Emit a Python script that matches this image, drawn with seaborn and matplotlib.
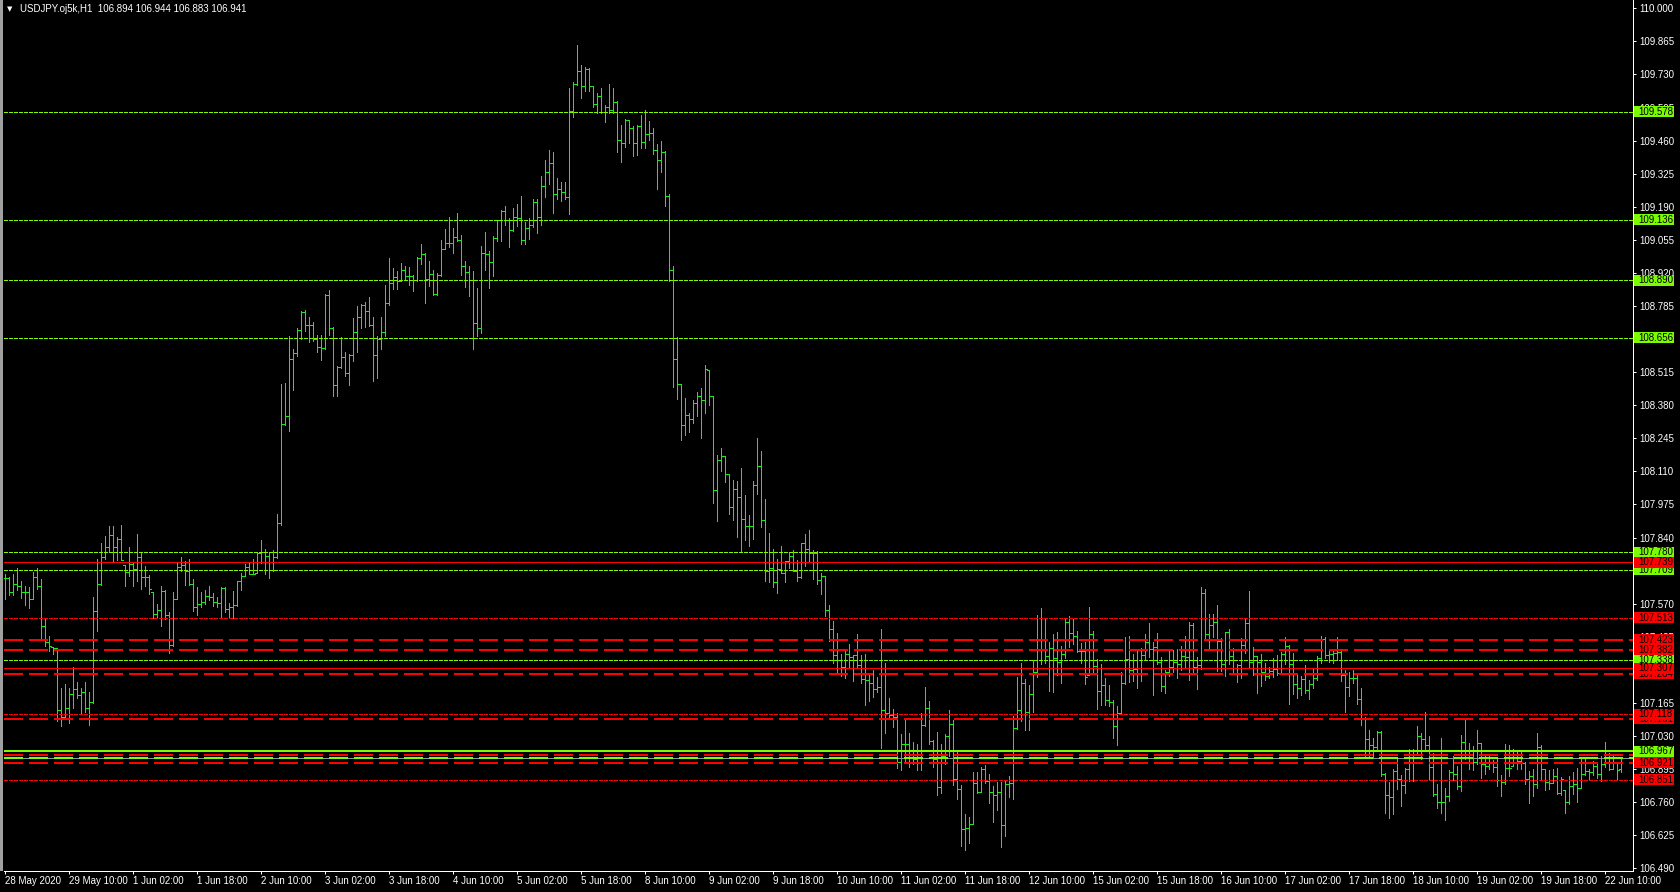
import matplotlib
matplotlib.use("Agg")
import matplotlib.pyplot as plt
import matplotlib.transforms as mtransforms
from matplotlib.patches import Rectangle
import seaborn as sns
import numpy as np

# USDJPY H1, barras desde 28 May 18:00 hasta 22 Jun 14:00
opens = [
    107.673, 107.673, 107.616, 107.649, 107.641, 107.616, 107.616, 107.588, 107.679, 107.641,
    107.479, 107.413, 107.397, 107.388, 107.135, 107.106, 107.144, 107.200, 107.223, 107.197,
    107.208, 107.143, 107.169, 107.540, 107.649, 107.762, 107.801, 107.849, 107.800, 107.835,
    107.748, 107.700, 107.732, 107.710, 107.762, 107.680, 107.680, 107.628, 107.528, 107.544,
    107.623, 107.522, 107.403, 107.590, 107.718, 107.726, 107.703, 107.650, 107.555, 107.567,
    107.575, 107.601, 107.598, 107.577, 107.573, 107.635, 107.547, 107.555, 107.563, 107.664,
    107.683, 107.720, 107.692, 107.692, 107.778, 107.779, 107.765, 107.707, 107.762, 107.899,
    108.302, 108.335, 108.567, 108.592, 108.686, 108.761, 108.706, 108.706, 108.650, 108.616,
    108.612, 108.830, 108.695, 108.461, 108.535, 108.575, 108.510, 108.585, 108.678, 108.740,
    108.789, 108.763, 108.706, 108.584, 108.650, 108.678, 108.796, 108.878, 108.902, 108.886,
    108.932, 108.906, 108.906, 108.890, 108.980, 108.997, 108.897, 108.917, 108.833, 108.910,
    109.016, 109.041, 109.041, 109.065, 109.056, 108.950, 108.924, 108.891, 108.717, 108.694,
    109.000, 108.996, 108.963, 109.061, 109.135, 109.171, 109.135, 109.094, 109.147, 109.143,
    109.053, 109.105, 109.114, 109.208, 109.147, 109.276, 109.333, 109.370, 109.241, 109.261,
    109.250, 109.228, 109.579, 109.690, 109.743, 109.681, 109.752, 109.681, 109.608, 109.641,
    109.575, 109.596, 109.583, 109.617, 109.462, 109.450, 109.543, 109.513, 109.449, 109.520,
    109.454, 109.488, 109.490, 109.420, 109.379, 109.412, 109.234, 108.930, 108.567, 108.466,
    108.300, 108.339, 108.325, 108.388, 108.416, 108.400, 108.526, 108.416, 108.033, 108.156,
    108.171, 108.098, 107.963, 108.039, 108.005, 107.914, 107.886, 107.888, 108.056, 108.133,
    107.910, 107.705, 107.714, 107.657, 107.713, 107.697, 107.743, 107.763, 107.705, 107.680,
    107.816, 107.794, 107.778, 107.778, 107.665, 107.682, 107.546, 107.465, 107.359, 107.341,
    107.310, 107.365, 107.354, 107.359, 107.321, 107.264, 107.257, 107.246, 107.220, 107.230,
    107.136, 107.122, 107.114, 107.106, 106.925, 106.996, 106.996, 106.925, 106.937, 106.974,
    107.076, 107.146, 107.011, 106.937, 106.823, 106.950, 107.031, 107.080, 106.854, 106.815,
    106.652, 106.653, 106.669, 106.839, 106.800, 106.894, 106.846, 106.800, 106.788, 106.800,
    106.665, 106.833, 106.837, 107.064, 107.136, 107.245, 107.127, 107.200, 107.291, 107.426,
    107.424, 107.355, 107.388, 107.347, 107.330, 107.365, 107.495, 107.449, 107.437, 107.375,
    107.376, 107.269, 107.445, 107.317, 107.213, 107.237, 107.176, 107.167, 107.069, 107.122,
    107.245, 107.345, 107.301, 107.305, 107.306, 107.359, 107.413, 107.383, 107.394, 107.333,
    107.232, 107.291, 107.313, 107.333, 107.322, 107.356, 107.352, 107.482, 107.313, 107.318,
    107.614, 107.445, 107.482, 107.494, 107.416, 107.322, 107.453, 107.356, 107.306, 107.318,
    107.400, 107.490, 107.330, 107.355, 107.332, 107.292, 107.276, 107.296, 107.303, 107.288,
    107.363, 107.396, 107.325, 107.241, 107.224, 107.264, 107.219, 107.241, 107.265, 107.347,
    107.424, 107.359, 107.366, 107.367, 107.374, 107.278, 107.229, 107.265, 107.265, 107.182,
    107.102, 107.016, 106.992, 106.984, 107.048, 106.876, 106.790, 106.782, 106.886, 106.856,
    106.829, 106.894, 106.921, 106.970, 107.029, 107.019, 106.993, 106.902, 106.792, 106.759,
    106.759, 106.786, 106.882, 106.873, 106.824, 107.004, 106.952, 106.953, 106.922, 107.000,
    106.917, 106.909, 106.925, 106.903, 106.850, 106.841, 106.898, 106.898, 106.922, 106.926,
    106.921, 106.854, 106.867, 106.834, 106.984, 106.894, 106.841, 106.839, 106.865, 106.796,
    106.856, 106.762, 106.824, 106.833, 106.816, 106.876, 106.886, 106.883, 106.906, 106.875,
    106.917, 106.958, 106.897, 106.918, 106.894,
]
highs = [
    107.691, 107.677, 107.691, 107.714, 107.662, 107.642, 107.637, 107.699, 107.715, 107.671,
    107.510, 107.438, 107.394, 107.389, 107.226, 107.242, 107.226, 107.311, 107.250, 107.226,
    107.250, 107.209, 107.596, 107.751, 107.816, 107.846, 107.886, 107.886, 107.841, 107.891,
    107.728, 107.801, 107.739, 107.854, 107.777, 107.724, 107.687, 107.616, 107.567, 107.641,
    107.624, 107.534, 107.617, 107.740, 107.760, 107.744, 107.751, 107.669, 107.637, 107.619,
    107.626, 107.642, 107.613, 107.597, 107.637, 107.637, 107.571, 107.622, 107.664, 107.694,
    107.732, 107.739, 107.751, 107.782, 107.830, 107.793, 107.782, 107.789, 107.936, 108.467,
    108.471, 108.663, 108.609, 108.694, 108.765, 108.769, 108.740, 108.720, 108.667, 108.667,
    108.834, 108.850, 108.699, 108.540, 108.659, 108.597, 108.589, 108.736, 108.785, 108.793,
    108.801, 108.822, 108.740, 108.663, 108.740, 108.871, 108.981, 108.939, 108.928, 108.959,
    108.948, 108.944, 108.912, 108.985, 109.037, 109.000, 108.969, 108.932, 108.918, 109.054,
    109.099, 109.148, 109.103, 109.165, 109.075, 108.969, 108.948, 108.928, 108.858, 109.030,
    109.087, 109.009, 109.071, 109.136, 109.177, 109.193, 109.144, 109.185, 109.201, 109.234,
    109.128, 109.144, 109.222, 109.222, 109.316, 109.381, 109.422, 109.414, 109.307, 109.291,
    109.291, 109.673, 109.698, 109.850, 109.769, 109.760, 109.756, 109.681, 109.653, 109.673,
    109.604, 109.691, 109.673, 109.620, 109.524, 109.547, 109.543, 109.518, 109.522, 109.563,
    109.584, 109.539, 109.511, 109.445, 109.458, 109.419, 109.242, 108.948, 108.658, 108.466,
    108.409, 108.347, 108.401, 108.434, 108.449, 108.544, 108.524, 108.416, 108.175, 108.205,
    108.171, 108.098, 108.075, 108.071, 108.124, 108.014, 107.932, 108.071, 108.246, 108.193,
    107.997, 107.858, 107.793, 107.752, 107.805, 107.744, 107.777, 107.789, 107.748, 107.818,
    107.854, 107.871, 107.789, 107.785, 107.695, 107.683, 107.565, 107.499, 107.450, 107.365,
    107.377, 107.405, 107.360, 107.446, 107.360, 107.365, 107.286, 107.299, 107.272, 107.467,
    107.328, 107.185, 107.140, 107.122, 107.038, 107.097, 107.042, 107.005, 106.997, 107.124,
    107.230, 107.173, 107.014, 107.046, 106.997, 107.038, 107.136, 107.097, 106.973, 106.831,
    106.711, 106.699, 106.883, 106.883, 106.903, 106.910, 106.875, 106.826, 106.843, 106.843,
    106.846, 106.866, 107.113, 107.271, 107.328, 107.262, 107.238, 107.340, 107.524, 107.552,
    107.507, 107.413, 107.446, 107.454, 107.397, 107.507, 107.520, 107.507, 107.458, 107.409,
    107.413, 107.556, 107.458, 107.344, 107.324, 107.267, 107.238, 107.177, 107.152, 107.291,
    107.434, 107.438, 107.365, 107.385, 107.389, 107.446, 107.491, 107.413, 107.450, 107.351,
    107.300, 107.384, 107.379, 107.385, 107.397, 107.438, 107.495, 107.490, 107.351, 107.638,
    107.630, 107.528, 107.528, 107.564, 107.430, 107.454, 107.467, 107.389, 107.325, 107.430,
    107.511, 107.621, 107.393, 107.357, 107.364, 107.328, 107.311, 107.348, 107.360, 107.373,
    107.434, 107.401, 107.369, 107.284, 107.276, 107.321, 107.260, 107.309, 107.355, 107.439,
    107.434, 107.385, 107.379, 107.434, 107.377, 107.299, 107.291, 107.299, 107.278, 107.226,
    107.107, 107.054, 107.022, 107.050, 107.050, 106.878, 106.844, 106.895, 106.940, 106.871,
    106.899, 106.977, 106.977, 107.071, 107.042, 107.128, 107.030, 106.961, 106.834, 107.022,
    106.818, 106.891, 106.948, 106.907, 107.034, 107.095, 107.001, 106.989, 107.054, 107.001,
    106.952, 106.956, 106.932, 106.944, 106.871, 106.997, 106.993, 106.977, 106.973, 106.973,
    106.924, 106.887, 106.895, 107.042, 106.993, 106.895, 106.891, 106.895, 106.899, 106.863,
    106.809, 106.867, 106.883, 106.899, 106.944, 106.936, 106.895, 106.928, 106.924, 106.948,
    107.005, 106.959, 106.955, 106.922, 106.944,
]
lows = [
    107.589, 107.605, 107.605, 107.626, 107.593, 107.564, 107.554, 107.589, 107.630, 107.422,
    107.398, 107.378, 107.364, 107.092, 107.072, 107.102, 107.084, 107.145, 107.185, 107.121,
    107.128, 107.076, 107.163, 107.460, 107.647, 107.754, 107.785, 107.741, 107.747, 107.748,
    107.643, 107.681, 107.643, 107.664, 107.630, 107.643, 107.609, 107.513, 107.517, 107.479,
    107.507, 107.370, 107.398, 107.589, 107.703, 107.646, 107.646, 107.541, 107.524, 107.558,
    107.569, 107.585, 107.562, 107.558, 107.510, 107.537, 107.510, 107.510, 107.562, 107.626,
    107.683, 107.691, 107.691, 107.696, 107.734, 107.691, 107.676, 107.705, 107.758, 107.893,
    108.299, 108.276, 108.442, 108.581, 108.652, 108.683, 108.638, 108.643, 108.599, 108.565,
    108.609, 108.667, 108.418, 108.418, 108.531, 108.501, 108.463, 108.561, 108.597, 108.695,
    108.699, 108.703, 108.479, 108.491, 108.609, 108.661, 108.790, 108.854, 108.854, 108.886,
    108.891, 108.871, 108.846, 108.887, 108.957, 108.797, 108.867, 108.831, 108.831, 108.907,
    109.016, 109.026, 109.001, 109.050, 108.912, 108.863, 108.827, 108.609, 108.663, 108.675,
    108.932, 108.858, 108.907, 109.050, 109.050, 109.116, 109.026, 109.091, 109.112, 109.038,
    109.039, 109.060, 109.109, 109.083, 109.117, 109.231, 109.284, 109.166, 109.222, 109.215,
    109.223, 109.162, 109.558, 109.686, 109.635, 109.664, 109.664, 109.598, 109.574, 109.574,
    109.537, 109.574, 109.574, 109.415, 109.374, 109.435, 109.452, 109.399, 109.403, 109.431,
    109.431, 109.464, 109.407, 109.264, 109.333, 109.194, 108.888, 108.456, 108.407, 108.240,
    108.260, 108.270, 108.309, 108.337, 108.248, 108.350, 108.382, 107.982, 107.909, 108.113,
    108.068, 107.937, 107.911, 107.843, 107.782, 107.830, 107.807, 107.835, 108.019, 107.884,
    107.664, 107.660, 107.639, 107.615, 107.694, 107.660, 107.717, 107.705, 107.664, 107.676,
    107.725, 107.741, 107.672, 107.652, 107.611, 107.521, 107.419, 107.329, 107.284, 107.276,
    107.268, 107.313, 107.256, 107.313, 107.245, 107.158, 107.174, 107.190, 107.211, 106.982,
    107.043, 107.109, 107.068, 106.901, 106.892, 106.929, 106.905, 106.917, 106.892, 106.892,
    107.072, 106.999, 106.902, 106.790, 106.797, 106.917, 106.950, 106.831, 106.774, 106.580,
    106.565, 106.592, 106.669, 106.796, 106.800, 106.837, 106.758, 106.680, 106.728, 106.578,
    106.623, 106.782, 106.774, 107.058, 107.093, 107.056, 107.056, 107.129, 107.272, 107.324,
    107.326, 107.215, 107.211, 107.279, 107.247, 107.349, 107.394, 107.405, 107.374, 107.326,
    107.243, 107.277, 107.291, 107.141, 107.158, 107.158, 107.154, 107.023, 106.994, 107.122,
    107.242, 107.252, 107.256, 107.227, 107.256, 107.345, 107.354, 107.199, 107.325, 107.212,
    107.207, 107.276, 107.292, 107.265, 107.300, 107.309, 107.260, 107.284, 107.223, 107.303,
    107.426, 107.385, 107.435, 107.296, 107.296, 107.276, 107.325, 107.284, 107.252, 107.268,
    107.367, 107.313, 107.280, 107.207, 107.235, 107.260, 107.268, 107.272, 107.280, 107.288,
    107.325, 107.162, 107.203, 107.186, 107.199, 107.207, 107.182, 107.227, 107.260, 107.329,
    107.347, 107.333, 107.329, 107.345, 107.254, 107.128, 107.193, 107.248, 107.162, 107.075,
    106.946, 106.950, 106.946, 106.967, 106.868, 106.717, 106.695, 106.713, 106.815, 106.746,
    106.799, 106.845, 106.845, 106.962, 106.937, 106.978, 106.849, 106.786, 106.736, 106.717,
    106.687, 106.766, 106.852, 106.815, 106.807, 106.935, 106.895, 106.892, 106.916, 106.860,
    106.876, 106.894, 106.882, 106.827, 106.786, 106.835, 106.868, 106.907, 106.894, 106.894,
    106.835, 106.758, 106.786, 106.818, 106.849, 106.809, 106.815, 106.839, 106.795, 106.790,
    106.717, 106.754, 106.795, 106.762, 106.816, 106.872, 106.852, 106.869, 106.860, 106.845,
    106.905, 106.890, 106.894, 106.852, 106.883,
]
closes = [
    107.673, 107.616, 107.649, 107.641, 107.616, 107.616, 107.588, 107.679, 107.641, 107.479,
    107.413, 107.397, 107.388, 107.135, 107.106, 107.144, 107.200, 107.223, 107.197, 107.208,
    107.143, 107.169, 107.540, 107.649, 107.762, 107.801, 107.849, 107.800, 107.835, 107.748,
    107.700, 107.732, 107.710, 107.762, 107.680, 107.680, 107.628, 107.528, 107.544, 107.623,
    107.522, 107.403, 107.590, 107.718, 107.726, 107.703, 107.650, 107.555, 107.567, 107.575,
    107.601, 107.598, 107.577, 107.573, 107.635, 107.547, 107.555, 107.563, 107.664, 107.683,
    107.720, 107.692, 107.692, 107.778, 107.779, 107.765, 107.707, 107.762, 107.899, 108.302,
    108.335, 108.567, 108.592, 108.686, 108.761, 108.706, 108.706, 108.650, 108.616, 108.612,
    108.830, 108.695, 108.461, 108.535, 108.575, 108.510, 108.585, 108.678, 108.740, 108.789,
    108.763, 108.706, 108.584, 108.650, 108.678, 108.796, 108.878, 108.902, 108.886, 108.932,
    108.906, 108.906, 108.890, 108.980, 108.997, 108.897, 108.917, 108.833, 108.910, 109.016,
    109.041, 109.041, 109.065, 109.056, 108.950, 108.924, 108.891, 108.717, 108.694, 109.000,
    108.996, 108.963, 109.061, 109.135, 109.171, 109.135, 109.094, 109.147, 109.143, 109.053,
    109.105, 109.114, 109.208, 109.147, 109.276, 109.333, 109.370, 109.241, 109.261, 109.250,
    109.228, 109.579, 109.690, 109.743, 109.681, 109.752, 109.681, 109.608, 109.641, 109.575,
    109.596, 109.583, 109.617, 109.462, 109.450, 109.543, 109.513, 109.449, 109.520, 109.454,
    109.488, 109.490, 109.420, 109.379, 109.412, 109.234, 108.930, 108.567, 108.466, 108.300,
    108.339, 108.325, 108.388, 108.416, 108.400, 108.526, 108.416, 108.033, 108.156, 108.171,
    108.098, 107.963, 108.039, 108.005, 107.914, 107.886, 107.888, 108.056, 108.133, 107.910,
    107.705, 107.714, 107.657, 107.713, 107.697, 107.743, 107.763, 107.705, 107.680, 107.816,
    107.794, 107.778, 107.778, 107.665, 107.682, 107.546, 107.465, 107.359, 107.341, 107.310,
    107.365, 107.354, 107.359, 107.321, 107.264, 107.257, 107.246, 107.220, 107.230, 107.136,
    107.122, 107.114, 107.106, 106.925, 106.996, 106.996, 106.925, 106.937, 106.974, 107.076,
    107.146, 107.011, 106.937, 106.823, 106.950, 107.031, 107.080, 106.854, 106.815, 106.652,
    106.653, 106.669, 106.839, 106.800, 106.894, 106.846, 106.800, 106.788, 106.800, 106.665,
    106.833, 106.837, 107.064, 107.136, 107.245, 107.127, 107.200, 107.291, 107.426, 107.424,
    107.355, 107.388, 107.347, 107.330, 107.365, 107.495, 107.449, 107.437, 107.375, 107.376,
    107.269, 107.445, 107.317, 107.213, 107.237, 107.176, 107.167, 107.069, 107.122, 107.245,
    107.345, 107.301, 107.305, 107.306, 107.359, 107.413, 107.383, 107.394, 107.333, 107.232,
    107.291, 107.313, 107.333, 107.322, 107.356, 107.352, 107.482, 107.313, 107.318, 107.614,
    107.445, 107.482, 107.494, 107.416, 107.322, 107.453, 107.356, 107.306, 107.318, 107.400,
    107.490, 107.330, 107.355, 107.332, 107.292, 107.276, 107.296, 107.303, 107.288, 107.363,
    107.396, 107.325, 107.241, 107.224, 107.264, 107.219, 107.241, 107.265, 107.347, 107.424,
    107.359, 107.366, 107.367, 107.374, 107.278, 107.229, 107.265, 107.265, 107.182, 107.102,
    107.016, 106.992, 106.984, 107.048, 106.876, 106.790, 106.782, 106.886, 106.856, 106.829,
    106.894, 106.921, 106.970, 107.029, 107.019, 106.993, 106.902, 106.792, 106.759, 106.759,
    106.786, 106.882, 106.873, 106.824, 107.004, 106.952, 106.953, 106.922, 107.000, 106.917,
    106.909, 106.925, 106.903, 106.850, 106.841, 106.898, 106.898, 106.922, 106.926, 106.921,
    106.854, 106.867, 106.834, 106.984, 106.894, 106.841, 106.839, 106.865, 106.796, 106.856,
    106.762, 106.824, 106.833, 106.816, 106.876, 106.886, 106.883, 106.906, 106.875, 106.917,
    106.958, 106.897, 106.918, 106.890, 106.941,
]

x_labels = ["28 May 2020", "29 May 10:00", "1 Jun 02:00", "1 Jun 18:00", "2 Jun 10:00",
            "3 Jun 02:00", "3 Jun 18:00", "4 Jun 10:00", "5 Jun 02:00", "5 Jun 18:00",
            "8 Jun 10:00", "9 Jun 02:00", "9 Jun 18:00", "10 Jun 10:00", "11 Jun 02:00",
            "11 Jun 18:00", "12 Jun 10:00", "15 Jun 02:00", "15 Jun 18:00", "16 Jun 10:00",
            "17 Jun 02:00", "17 Jun 18:00", "18 Jun 10:00", "19 Jun 02:00", "19 Jun 18:00",
            "22 Jun 10:00"]
y_ticks = [110.000, 109.865, 109.730, 109.595, 109.460, 109.325, 109.190, 109.055, 108.920,
           108.785, 108.650, 108.515, 108.380, 108.245, 108.110, 107.975, 107.840, 107.705,
           107.570, 107.435, 107.300, 107.165, 107.030, 106.895, 106.760, 106.625, 106.490]

# niveles horizontales dibujados en el grafico
green_dotted = [109.578, 109.136, 108.890, 108.656, 107.780, 107.709, 107.338]
green_solid = [106.967]
red_solid = [107.739, 107.307]
red_dotted = [107.513, 107.118, 106.851]
red_longdash = [107.423, 107.382, 107.284, 107.101, 106.951, 106.921]
bid_price = 106.941

# etiquetas de precio a la derecha (orden de dibujo: las ultimas quedan encima)
box_prices = [109.578, 109.136, 108.890, 108.656, 107.780, 107.709, 107.739, 107.513,
              107.423, 107.382, 107.284, 107.338, 107.307, 107.101, 107.118, 106.951,
              106.967, 106.921, 106.851]
box_kinds = ["g", "g", "g", "g", "g", "g", "r", "r",
             "r", "r", "r", "g", "r", "r", "r", "r",
             "g", "r", "r"]

title = "USDJPY.oj5k,H1  106.894 106.944 106.883 106.941"

# --- estilo ---
sns.set_theme(style="dark", rc={"axes.facecolor": "black", "figure.facecolor": "black"})
plt.rcParams['font.family'] = ['Liberation Sans', 'DejaVu Sans']

W, H = 1680, 892
PX = 0.72  # 1 pixel en puntos (dpi 100)
BAR = "#1ee81e"
GREEN = "#7cfc00"
RED = "#ff0000"

fig = plt.figure(figsize=(W / 100, H / 100), dpi=100, facecolor="black")
ax = fig.add_axes([4 / W, 21 / H, 1629 / W, 871 / H])
ax.set_facecolor("black")
ax.grid(False)

n = len(closes)
xs = np.arange(n)
o = np.clip(opens, lows, highs)
c = np.clip(closes, lows, highs)
ax.vlines(xs, lows, highs, colors=BAR, linewidth=PX, antialiased=False, zorder=3)
ax.hlines(o, xs - 0.4, xs, colors=BAR, linewidth=PX, antialiased=False, zorder=3)
ax.hlines(c, xs, xs + 0.4, colors=BAR, linewidth=PX, antialiased=False, zorder=3)

# lineas de niveles
for y in green_dotted:
    ax.axhline(y, color=GREEN, lw=PX, ls=(0, (3, 2)), antialiased=False, zorder=4)
for y in red_dotted:
    ax.axhline(y, color=RED, lw=PX, ls=(0, (3, 2)), antialiased=False, zorder=4)
for y in red_solid:
    ax.axhline(y, color=RED, lw=PX, antialiased=False, zorder=4)
for y in green_solid:
    ax.axhline(y, color=GREEN, lw=1.5 * PX, antialiased=False, zorder=4)
for y in red_longdash:
    ax.axhline(y, color=RED, lw=1.5 * PX, ls=(0, (12, 4)), antialiased=False, zorder=4)
ax.axhline(bid_price, color="#8c96a0", lw=PX, antialiased=False, zorder=4)
ax.axhline(bid_price, color=GREEN, lw=1.5 * PX, ls=(0, (12, 4)), antialiased=False, zorder=4)

ax.set_xlim(-0.25, 407)
ax.set_ylim(106.4788, 110.0339)

# ejes
ax.yaxis.tick_right()
ax.set_yticks(y_ticks)
ax.set_yticklabels([f"{v:.3f}" for v in y_ticks])
ax.set_xticks(np.arange(len(x_labels)) * 16)
ax.set_xticklabels(x_labels, ha="left")
ax.tick_params(axis="y", right=True, left=False, direction="out", length=3 * PX,
               width=PX, color="white", labelcolor="white", labelsize=7, pad=2.5)
ax.tick_params(axis="x", bottom=True, direction="out", length=3 * PX,
               width=PX, color="white", labelcolor="white", labelsize=7, pad=1.5)
for side in ["left", "top"]:
    ax.spines[side].set_visible(False)
for side in ["right", "bottom"]:
    ax.spines[side].set_color("white")
    ax.spines[side].set_linewidth(PX)

# cajas de precio
trans = mtransforms.blended_transform_factory(fig.transFigure, ax.transData)
bh = 11 / 245
for k, (p, kind) in enumerate(zip(box_prices, box_kinds)):
    col = GREEN if kind == "g" else RED
    fig.add_artist(Rectangle((1634 / W, p - bh / 2), 40 / W, bh, transform=trans,
                             facecolor=col, edgecolor="none", zorder=5 + 2 * k))
    fig.text(1638 / W, p, f"{p:.3f}", transform=trans, color="black", fontsize=7,
             va="center", ha="left", zorder=6 + 2 * k)

# borde izquierdo y titulo
fig.add_artist(Rectangle((0, 21 / H), 3 / W, 871 / H, transform=fig.transFigure,
                         facecolor="#a0a0a0", edgecolor="none"))
fig.text(7 / W, 1 - 9.5 / H, "▼", color="white", fontsize=5, va="center",
         family=["DejaVu Sans"])
fig.text(20 / W, 1 - 9.5 / H, title, color="white", fontsize=7, va="center")

fig.savefig("out.png", dpi=100, facecolor="black")
